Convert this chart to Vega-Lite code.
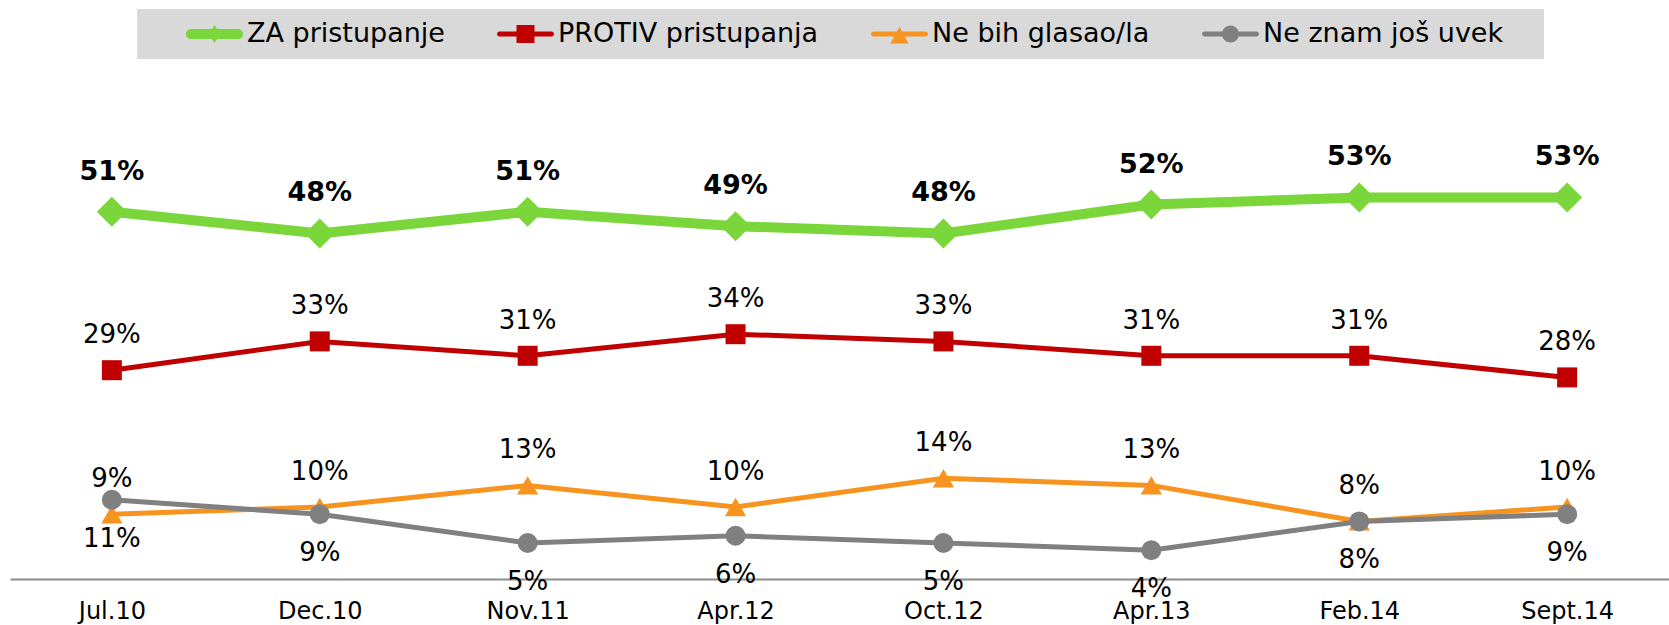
{
  "$schema": "https://vega.github.io/schema/vega-lite/v6.json",
  "autosize": "none",
  "width": 1659,
  "height": 432,
  "padding": {"left": 10, "top": 147, "right": 0, "bottom": 46},
  "background": "white",
  "config": {"view": {"stroke": null}, "font": "DejaVu Sans"},
  "data": {
    "values": [
      {"period": "Jul.10", "series": "ZA pristupanje", "value": 0.51},
      {"period": "Dec.10", "series": "ZA pristupanje", "value": 0.48},
      {"period": "Nov.11", "series": "ZA pristupanje", "value": 0.51},
      {"period": "Apr.12", "series": "ZA pristupanje", "value": 0.49},
      {"period": "Oct.12", "series": "ZA pristupanje", "value": 0.48},
      {"period": "Apr.13", "series": "ZA pristupanje", "value": 0.52},
      {"period": "Feb.14", "series": "ZA pristupanje", "value": 0.53},
      {"period": "Sept.14", "series": "ZA pristupanje", "value": 0.53},
      {"period": "Jul.10", "series": "PROTIV pristupanja", "value": 0.29},
      {"period": "Dec.10", "series": "PROTIV pristupanja", "value": 0.33},
      {"period": "Nov.11", "series": "PROTIV pristupanja", "value": 0.31},
      {"period": "Apr.12", "series": "PROTIV pristupanja", "value": 0.34},
      {"period": "Oct.12", "series": "PROTIV pristupanja", "value": 0.33},
      {"period": "Apr.13", "series": "PROTIV pristupanja", "value": 0.31},
      {"period": "Feb.14", "series": "PROTIV pristupanja", "value": 0.31},
      {"period": "Sept.14", "series": "PROTIV pristupanja", "value": 0.28},
      {"period": "Jul.10", "series": "Ne bih glasao/la", "value": 0.09},
      {"period": "Dec.10", "series": "Ne bih glasao/la", "value": 0.10},
      {"period": "Nov.11", "series": "Ne bih glasao/la", "value": 0.13},
      {"period": "Apr.12", "series": "Ne bih glasao/la", "value": 0.10},
      {"period": "Oct.12", "series": "Ne bih glasao/la", "value": 0.14},
      {"period": "Apr.13", "series": "Ne bih glasao/la", "value": 0.13},
      {"period": "Feb.14", "series": "Ne bih glasao/la", "value": 0.08},
      {"period": "Sept.14", "series": "Ne bih glasao/la", "value": 0.10},
      {"period": "Jul.10", "series": "Ne znam još uvek", "value": 0.11},
      {"period": "Dec.10", "series": "Ne znam još uvek", "value": 0.09},
      {"period": "Nov.11", "series": "Ne znam još uvek", "value": 0.05},
      {"period": "Apr.12", "series": "Ne znam još uvek", "value": 0.06},
      {"period": "Oct.12", "series": "Ne znam još uvek", "value": 0.05},
      {"period": "Apr.13", "series": "Ne znam još uvek", "value": 0.04},
      {"period": "Feb.14", "series": "Ne znam još uvek", "value": 0.08},
      {"period": "Sept.14", "series": "Ne znam još uvek", "value": 0.09}
    ]
  },
  "encoding": {
    "x": {
      "field": "period",
      "type": "ordinal",
      "sort": ["Jul.10", "Dec.10", "Nov.11", "Apr.12", "Oct.12", "Apr.13", "Feb.14", "Sept.14"],
      "scale": {"type": "point", "padding": 0.49},
      "axis": {
        "title": null,
        "domainColor": "#8c8c8c",
        "domainWidth": 2,
        "ticks": false,
        "tickSize": 0,
        "grid": false,
        "labelAngle": 0,
        "labelFont": "DejaVu Sans",
        "labelFontSize": 24,
        "labelColor": "#000000",
        "labelBaseline": "alphabetic",
        "labelPadding": 39
      }
    },
    "y": {
      "field": "value",
      "type": "quantitative",
      "scale": {"domain": [0, 0.6], "nice": false, "zero": true},
      "axis": null
    },
    "color": {
      "field": "series",
      "type": "nominal",
      "scale": {
        "domain": ["ZA pristupanje", "PROTIV pristupanja", "Ne bih glasao/la", "Ne znam još uvek"],
        "range": ["#7AD63A", "#C00000", "#F7941F", "#808080"]
      },
      "legend": {
        "orient": "none",
        "legendX": 127,
        "legendY": -138,
        "direction": "horizontal",
        "title": "\u00a0",
        "titleOrient": "right",
        "titlePadding": 30,
        "titleFontSize": 26,
        "fillColor": "#D9D9D9",
        "strokeColor": null,
        "padding": 11,
        "labelFont": "DejaVu Sans",
        "labelFontSize": 27,
        "labelColor": "#000000",
        "labelLimit": 0,
        "symbolSize": 3249,
        "clipHeight": 28,
        "labelOffset": 4,
        "columnPadding": 14,
        "symbolOffset": 38,
        "encode": {
          "symbols": {
            "update": {
              "shape": {"signal": "datum.value === 'ZA pristupanje' ? 'M-0.825,-0.175H0.825A0.175,0.175 0 0 1 0.825,0.175H-0.825A0.175,0.175 0 0 1 -0.825,-0.175Z M0,-0.32L0.2,0L0,0.32L-0.2,0Z' : datum.value === 'PROTIV pristupanja' ? 'M-0.912,-0.088H0.912A0.088,0.088 0 0 1 0.912,0.088H-0.912A0.088,0.088 0 0 1 -0.912,-0.088Z M-0.316,-0.316H0.316V0.316H-0.316Z' : datum.value === 'Ne bih glasao/la' ? 'M-0.912,-0.088H0.912A0.088,0.088 0 0 1 0.912,0.088H-0.912A0.088,0.088 0 0 1 -0.912,-0.088Z M0,-0.256L0.316,0.33L-0.316,0.33Z' : 'M-0.912,-0.088H0.912A0.088,0.088 0 0 1 0.912,0.088H-0.912A0.088,0.088 0 0 1 -0.912,-0.088Z M-0.3,0A0.3,0.3 0 1 1 0.3,0A0.3,0.3 0 1 1 -0.3,0Z'"},
              "fill": {"scale": "color", "field": "value"},
              "stroke": {"value": "transparent"},
              "strokeWidth": {"value": 0},
              "opacity": {"value": 1}
            }
          }
        }
      }
    }
  },
  "layer": [
    {
      "mark": {"type": "line", "strokeCap": "butt", "strokeJoin": "miter"},
      "encoding": {
        "strokeWidth": {
          "condition": {"test": "datum.series === 'ZA pristupanje'", "value": 10},
          "value": 5
        }
      }
    },
    {
      "mark": {"type": "point", "filled": true, "opacity": 1},
      "encoding": {
        "shape": {
          "condition": [
            {"test": "datum.series === 'ZA pristupanje'", "value": "diamond"},
            {"test": "datum.series === 'PROTIV pristupanja'", "value": "square"},
            {"test": "datum.series === 'Ne bih glasao/la'", "value": "triangle-up"}
          ],
          "value": "circle"
        },
        "size": {
          "condition": [
            {"test": "datum.series === 'ZA pristupanje'", "value": 900},
            {"test": "datum.series === 'Ne bih glasao/la'", "value": 450}
          ],
          "value": 400
        }
      }
    },
    {
      "transform": [{"filter": "datum.series === 'ZA pristupanje'"}],
      "mark": {"type": "text", "dy": -40, "baseline": "middle", "align": "center", "font": "DejaVu Sans", "fontSize": 27, "fontWeight": "bold"},
      "encoding": {
        "text": {"field": "value", "type": "quantitative", "format": ".0%"},
        "color": {"value": "#000000"}
      }
    },
    {
      "transform": [{"filter": "datum.series === 'PROTIV pristupanja' || datum.series === 'Ne bih glasao/la'"}],
      "mark": {"type": "text", "dy": -35, "baseline": "middle", "align": "center", "font": "DejaVu Sans", "fontSize": 26},
      "encoding": {
        "text": {"field": "value", "type": "quantitative", "format": ".0%"},
        "color": {"value": "#000000"}
      }
    },
    {
      "transform": [{"filter": "datum.series === 'Ne znam još uvek'"}],
      "mark": {"type": "text", "dy": 39, "baseline": "middle", "align": "center", "font": "DejaVu Sans", "fontSize": 26},
      "encoding": {
        "text": {"field": "value", "type": "quantitative", "format": ".0%"},
        "color": {"value": "#000000"}
      }
    }
  ]
}
